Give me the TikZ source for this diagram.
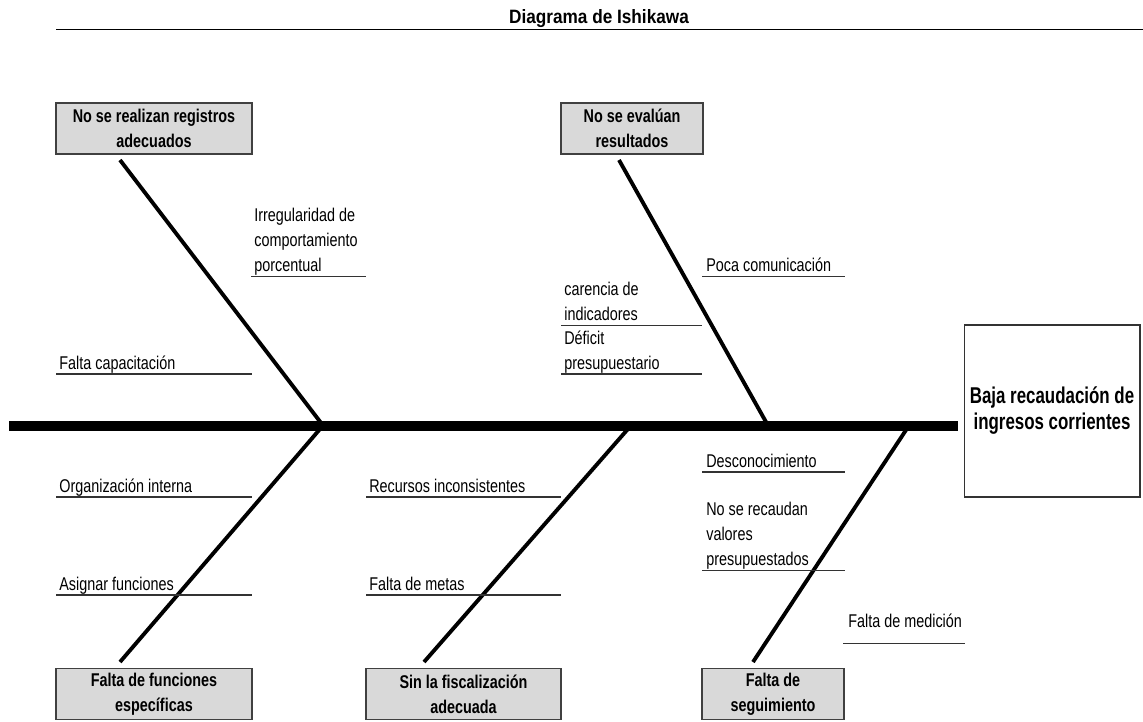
\documentclass[tikz,border=0pt]{standalone}
\usepackage{fontspec}
\setmainfont{Liberation Sans}[FakeStretch=0.78]
\newfontfamily\titlefont{Liberation Sans}[FakeStretch=0.89]
\newfontfamily\effectfont{Liberation Sans}[FakeStretch=0.74]

\begin{document}
\begin{tikzpicture}[x=0.02cm, y=-0.02cm,
		bone/.style={line width=2.2pt},
		spine/.style={line width=5.7pt},
		cellrule/.style={draw=black!80, line width=0.8pt},
		causebox/.style={draw=black!75, fill=gray!30, line width=0.6pt, inner sep=0pt, align=center,
			font=\bfseries\fontsize{10.5}{14.2}\selectfont, minimum height=1.02cm},
		cause/.style={anchor=base west, inner sep=0pt, align=left, font=\fontsize{10.5}{14.2}\selectfont}]
			\useasboundingbox (0,0) rectangle (1143,721);
			
			% titulo
			\node[anchor=base, inner sep=0pt, font=\titlefont\bfseries\fontsize{11}{13}\selectfont] (title) at (599,23.5) {Diagrama de Ishikawa};
			\draw[line width=0.9pt] (56,29.5) -- (1143,29.5);
			
			% efecto
			\node[draw=black!80, line width=0.6pt, inner sep=0pt, align=center, minimum width=3.52cm, minimum height=3.44cm,
				font=\effectfont\bfseries\fontsize{13}{14.8}\selectfont] (effect) at (1052,411) {Baja recaudaci\'on de\\ingresos corrientes};
			
			% categorias
			\node[causebox, minimum width=3.92cm] (registros) at (154,128.5) {No se realizan registros\\adecuados};
			\node[causebox, minimum width=2.84cm] (evaluan) at (632,128.5) {No se eval\'uan\\resultados};
			\node[causebox, minimum width=3.92cm] (funciones) at (154,694) {Falta de funciones\\espec\'ificas};
			\node[causebox, minimum width=3.90cm] (fiscal) at (463.5,694) {Sin la fiscalizaci\'on\\adecuada};
			\node[causebox, minimum width=2.84cm] (seguim) at (773,694) {Falta de\\seguimiento};
			
			% espina
			\coordinate (tail) at (9,425.5);
			\coordinate (head) at (958,425.5);
			\draw[spine] (tail) -- (head);
			
			\coordinate (j1) at (323,425.5);
			\coordinate (j2) at (768,425.5);
			\coordinate (j3) at (631,425.5);
			\coordinate (j4) at (909,425.5);
			\coordinate (b1) at (120,160);
			\coordinate (b2) at (619,160);
			\coordinate (b3) at (120,662);
			\coordinate (b4) at (424,662);
			\coordinate (b5) at (753,662);
			\draw[bone] (b1) -- (j1);
			\draw[bone] (b2) -- (j2);
			\draw[bone] (j1) -- (b3);
			\draw[bone] (j3) -- (b4);
			\draw[bone] (j4) -- (b5);
			
			% causas
			\node[cause] (irreg) at (254,271.5) {Irregularidad de\\comportamiento\\porcentual};
			\draw[cellrule] (251,276.5) -- (366,276.5);
			\node[cause] (capac) at (59,369) {Falta capacitaci\'on};
			\draw[cellrule] (56,374) -- (252,374);
			
			\node[cause] (comun) at (706,271.5) {Poca comunicaci\'on};
			\draw[cellrule] (702,276.5) -- (845,276.5);
			\node[cause] (indic) at (564,320.5) {carencia de\\indicadores};
			\draw[cellrule] (561,325.5) -- (702,325.5);
			\node[cause] (deficit) at (564,369) {D\'eficit\\presupuestario};
			\draw[cellrule] (561,374) -- (702,374);
			
			\node[cause] (organiz) at (59,492) {Organizaci\'on interna};
			\draw[cellrule] (56,497) -- (252,497);
			\node[cause] (asignar) at (59,590) {Asignar funciones};
			\draw[cellrule] (56,595) -- (252,595);
			
			\node[cause] (recursos) at (369,492) {Recursos inconsistentes};
			\draw[cellrule] (366,497) -- (561,497);
			\node[cause] (metas) at (369,590) {Falta de metas};
			\draw[cellrule] (366,595) -- (561,595);
			
			\node[cause] (descon) at (706,467) {Desconocimiento};
			\draw[cellrule] (702,472) -- (845,472);
			\node[cause] (recaud) at (706,565.5) {No se recaudan\\valores\\presupuestados};
			\draw[cellrule] (702,570.5) -- (845,570.5);
			\node[cause] (medic) at (848,627) {Falta de medici\'on};
			\draw[cellrule] (843,643.5) -- (965,643.5);
		\end{tikzpicture}
\end{document}
